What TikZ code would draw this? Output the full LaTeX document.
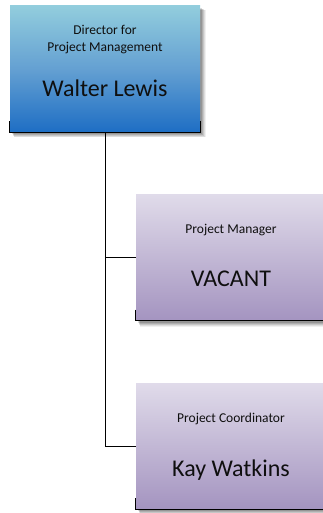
\documentclass[tikz,border=0pt]{standalone}
\usepackage{fontspec}
\setmainfont{Carlito}
\definecolor{bluetop}{RGB}{146,205,221}
\definecolor{bluemid}{RGB}{100,160,210}
\definecolor{bluebot}{RGB}{30,110,196}
\definecolor{purptop}{RGB}{224,219,234}
\definecolor{purpbot}{RGB}{164,148,192}
\definecolor{txt}{RGB}{15,15,15}
\tikzset{
  orgbox/.style={rectangle, inner sep=0pt, minimum width=190pt, minimum height=126pt},
  bluebox/.style={orgbox, top color=bluetop, bottom color=bluebot, middle color=bluemid},
  purplebox/.style={orgbox, top color=purptop, bottom color=purpbot},
  smalltxt/.style={font=\fontsize{13.5}{17}\selectfont, text=txt, anchor=base, inner sep=0pt},
  bigtxt/.style={font=\fontsize{24}{28}\selectfont, text=txt, anchor=base, inner sep=0pt},
  link/.style={draw=black, line width=0.9pt},
  bracket/.style={draw=black, line width=1.3pt}
}
\newcommand{\softshadow}[4]{%
  \foreach \k/\op in {5/0.06,4/0.08,3/0.10,2/0.12,1/0.14}{%
    \fill[black, opacity=\op] ({#1+2+\k*0.4},{#2+2+\k*0.4}) rectangle ({#3+1+\k*0.9},{#4+1+\k*0.9});
  }%
}
\begin{document}
\begin{tikzpicture}[x=1pt,y=-1pt]
\useasboundingbox (0,0) rectangle (322,513);
% shadows
\softshadow{10}{6}{200}{132}
\softshadow{136}{194}{326}{321}
\softshadow{136}{383}{326}{509}
% boxes
\node[bluebox] (dir) at (105,69) {};
\node[purplebox] (pm) at (231,257.5) {};
\node[purplebox] (pc) at (231,446) {};
% bottom brackets
\draw[bracket] ([yshift=11pt]dir.south west) -- (dir.south west) -- (dir.south east) -- ([yshift=11pt]dir.south east);
\draw[bracket] ([yshift=11pt]pm.south west) -- (pm.south west) -- (pm.south east) -- ([yshift=11pt]pm.south east);
\draw[bracket] ([yshift=11pt]pc.south west) -- (pc.south west) -- (pc.south east) -- ([yshift=11pt]pc.south east);
% connectors
\draw[link] (dir.south) |- (pm.west);
\draw[link] (dir.south) |- (pc.west);
% texts
\node[smalltxt] (dirt1) at (105,35) {Director for};
\node[smalltxt] (dirt2) at (105,52) {Project Management};
\node[bigtxt] (dirn) at (105,97) {Walter Lewis};
\node[smalltxt] (pmt) at (231,233) {Project Manager};
\node[bigtxt] (pmn) at (231,286) {VACANT};
\node[smalltxt] (pct) at (231,422) {Project Coordinator};
\node[bigtxt] (pcn) at (231,476) {Kay Watkins};
\end{tikzpicture}
\end{document}
